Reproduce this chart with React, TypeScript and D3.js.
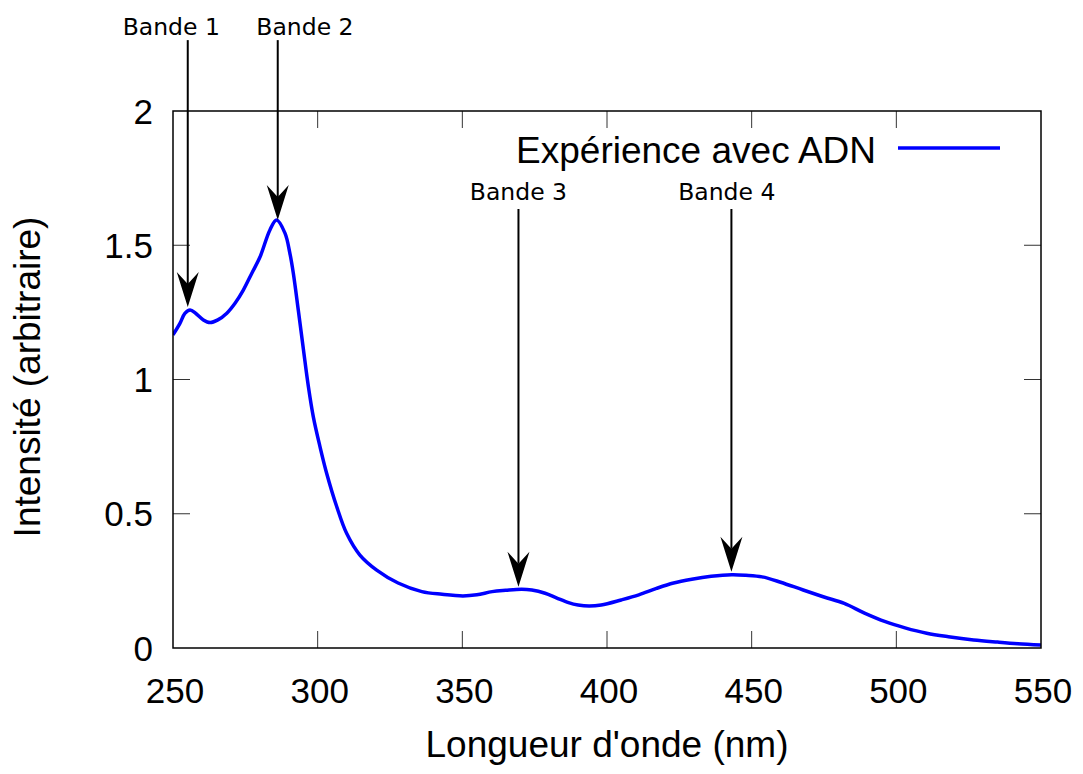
import React, { useRef, useEffect } from 'react';
import * as d3 from 'd3';

const wavelengths = [
  250, 252.4, 254.1, 255.9, 258, 260.5, 262.8, 265.5, 268.6, 271.5, 274.3, 277.2,
  280.1, 283.5, 285.8, 288.7, 290.4, 291.6, 293.3, 295.1, 296.8, 298.5, 300.8,
  303.1, 306.6, 310, 314.6, 320.4, 327.8, 336, 343, 350.2, 355, 360.3, 365, 370.5,
  374, 378.6, 382.5, 386.7, 390, 393.8, 398, 404.9, 411, 417.1, 423, 429.3, 436,
  443.1, 448, 453.6, 460, 467.8, 475, 482, 489, 496.2, 503, 510.5, 518, 526.7,
  535, 542, 550,
];
const intensities = [
  1.166, 1.209, 1.246, 1.259, 1.245, 1.222, 1.212, 1.222, 1.247, 1.285, 1.333, 1.395,
  1.457, 1.557, 1.594, 1.545, 1.47, 1.395, 1.259, 1.11, 0.973, 0.861, 0.75,
  0.651, 0.526, 0.427, 0.346, 0.29, 0.242, 0.21, 0.2, 0.194, 0.198, 0.21, 0.215, 0.219,
  0.216, 0.204, 0.187, 0.169, 0.16, 0.156, 0.16, 0.179, 0.198, 0.222, 0.242, 0.256, 0.267,
  0.273, 0.271, 0.265, 0.245, 0.216, 0.19, 0.166, 0.13, 0.098, 0.075, 0.055, 0.042, 0.03,
  0.022, 0.016, 0.011,
];

const seriesLabel = 'Expérience avec ADN';
const xTicks = [250, 300, 350, 400, 450, 500, 550];
const yTicks = [0, 0.5, 1, 1.5, 2];
const xLabel = "Longueur d'onde (nm)";
const yLabel = 'Intensité (arbitraire)';

// Flèches: position x (nm), départ (y), pointe (y), texte, position du texte
const bandNames = ['Bande 1', 'Bande 2', 'Bande 3', 'Bande 4'];
const bandX = [255.1, 286.2, 369.4, 443];
const bandTip = [1.27, 1.594, 0.228, 0.284];
const bandStart = [2.264, 2.264, 1.635, 1.635];
const bandTextX = [249.4, 295.6, 369.4, 441.4];
const bandTextY = [2.283, 2.283, 1.669, 1.669];

const W = 1083;
const H = 774;

const App: React.FC = () => {
  const svgRef = useRef<SVGSVGElement>(null);

  useEffect(() => {
    if (!svgRef.current) return;

    const margin = { top: 111, right: 42, bottom: 126, left: 173 };
    const innerWidth = W - margin.left - margin.right;
    const innerHeight = H - margin.top - margin.bottom;
    const font = '"Liberation Sans", Arial, sans-serif';

    d3.select(svgRef.current).selectAll('*').remove();

    const svg = d3.select(svgRef.current)
      .attr('width', W)
      .attr('height', H)
      .attr('viewBox', `0 0 ${W} ${H}`);

    svg.append('rect').attr('width', W).attr('height', H).attr('fill', '#fff');

    const g = svg.append('g')
      .attr('transform', `translate(${margin.left},${margin.top})`);

    const xScale = d3.scaleLinear().domain([250, 550]).range([0, innerWidth]);
    const yScale = d3.scaleLinear().domain([0, 2]).range([innerHeight, 0]);

    // Graduations sur les quatre côtés
    const tickLen = 17;
    const ticks = g.append('g').attr('stroke', '#333').attr('stroke-width', 1);
    xTicks.slice(1, -1).forEach(t => {
      const x = xScale(t);
      ticks.append('line').attr('x1', x).attr('x2', x).attr('y1', innerHeight).attr('y2', innerHeight - tickLen);
      ticks.append('line').attr('x1', x).attr('x2', x).attr('y1', 0).attr('y2', tickLen);
    });
    yTicks.slice(1, -1).forEach(t => {
      const y = yScale(t);
      ticks.append('line').attr('x1', 0).attr('x2', tickLen).attr('y1', y).attr('y2', y);
      ticks.append('line').attr('x1', innerWidth).attr('x2', innerWidth - tickLen).attr('y1', y).attr('y2', y);
    });

    // Libellés des graduations
    g.selectAll('.xtick')
      .data(xTicks)
      .enter()
      .append('text')
      .attr('x', d => xScale(d) + 2)
      .attr('y', innerHeight + 55)
      .attr('text-anchor', 'middle')
      .style('font-family', font)
      .style('font-size', '35px')
      .text(d => String(d));

    g.selectAll('.ytick')
      .data(yTicks)
      .enter()
      .append('text')
      .attr('x', -20)
      .attr('y', d => yScale(d) + 12.5)
      .attr('text-anchor', 'end')
      .style('font-family', font)
      .style('font-size', '35px')
      .text(d => String(d));

    // Courbe
    g.append('clipPath').attr('id', 'plot-clip')
      .append('rect').attr('width', innerWidth).attr('height', innerHeight);

    const line = d3.line<number>()
      .x((_, i) => xScale(wavelengths[i]))
      .y(d => yScale(d))
      .curve(d3.curveCatmullRom.alpha(0.5));

    g.append('path')
      .datum(intensities)
      .attr('clip-path', 'url(#plot-clip)')
      .attr('fill', 'none')
      .attr('stroke', '#0000ff')
      .attr('stroke-width', 3.5)
      .attr('stroke-linejoin', 'round')
      .attr('d', line);

    // Cadre
    g.append('rect')
      .attr('width', innerWidth)
      .attr('height', innerHeight)
      .attr('fill', 'none')
      .attr('stroke', '#000')
      .attr('stroke-width', 1.5);

    // Légende
    g.append('text')
      .attr('x', 876 - margin.left)
      .attr('y', 162.5 - margin.top)
      .attr('text-anchor', 'end')
      .style('font-family', font)
      .style('font-size', '37px')
      .text(seriesLabel);
    g.append('line')
      .attr('x1', 898 - margin.left)
      .attr('x2', 1000 - margin.left)
      .attr('y1', 148 - margin.top)
      .attr('y2', 148 - margin.top)
      .attr('stroke', '#0000ff')
      .attr('stroke-width', 3.5);

    // Flèches et étiquettes des bandes
    const headLen = 35;
    const headHalf = 11;
    const notch = 23;
    bandNames.forEach((name, i) => {
      const x = xScale(bandX[i]);
      const y0 = yScale(bandStart[i]);
      const y1 = yScale(bandTip[i]);
      g.append('line')
        .attr('x1', x).attr('x2', x)
        .attr('y1', y0).attr('y2', y1 - notch)
        .attr('stroke', '#000')
        .attr('stroke-width', 2);
      g.append('path')
        .attr('d', `M${x},${y1} L${x - headHalf},${y1 - headLen} L${x},${y1 - notch} L${x + headHalf},${y1 - headLen} Z`)
        .attr('fill', '#000');
      g.append('text')
        .attr('x', xScale(bandTextX[i]))
        .attr('y', yScale(bandTextY[i]))
        .attr('text-anchor', 'middle')
        .style('font-family', '"DejaVu Sans", sans-serif')
        .style('font-size', '23.5px')
        .text(name);
    });

    // Titres des axes
    g.append('text')
      .attr('x', innerWidth / 2)
      .attr('y', 757 - margin.top)
      .attr('text-anchor', 'middle')
      .style('font-family', font)
      .style('font-size', '37px')
      .text(xLabel);

    g.append('text')
      .attr('transform', 'rotate(-90)')
      .attr('x', -(377 - margin.top))
      .attr('y', 40 - margin.left)
      .attr('text-anchor', 'middle')
      .style('font-family', font)
      .style('font-size', '37px')
      .text(yLabel);
  }, []);

  return (
    <svg
      ref={svgRef}
      style={{ position: 'absolute', left: 0, top: 0, display: 'block' }}
      aria-label="Spectre d'intensité en fonction de la longueur d'onde"
    />
  );
};

export default App;
